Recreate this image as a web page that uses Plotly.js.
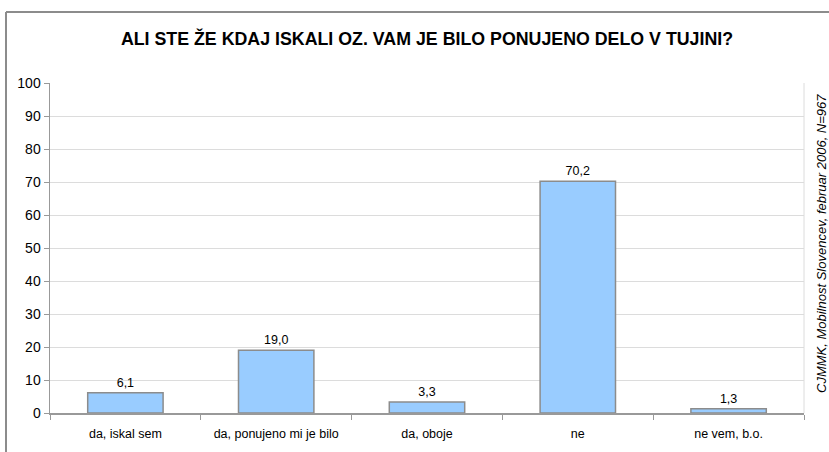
<!DOCTYPE html>
<html><head><meta charset="utf-8">
<script src="https://cdn.plot.ly/plotly-3.0.1.min.js"></script>
<style>body{margin:0;background:#fff}#c{width:829px;height:452px}</style>
</head><body><div id="c"></div>
<script>
var categories = ["da, iskal sem", "da, ponujeno mi je bilo", "da, oboje", "ne", "ne vem, b.o."];
var values = [6.1, 19.0, 3.3, 70.2, 1.3];
var valueLabels = ["6,1", "19,0", "3,3", "70,2", "1,3"];
var yTicks = [0,10,20,30,40,50,60,70,80,90,100];
var titleText = "ALI STE ŽE KDAJ ISKALI OZ. VAM JE BILO PONUJENO DELO V TUJINI?";
var sourceText = "CJMMK, Mobilnost Slovencev, februar 2006, N=967";

var L = 50, R = 25, T = 83, B = 39, W = 829, H = 452;
var pw = W - L - R, ph = H - T - B;
function px(x){return (x - L)/pw;}
function py(y){return (H - B - y)/ph;}

var trace = {
  type: "bar", x: categories, y: values,
  text: valueLabels, textposition: "outside", cliponaxis: false,
  textfont: {family: "Liberation Sans, Arial", size: 12.5, color: "#000"},
  marker: {color: "#99CCFF", line: {color: "#8c8c8c", width: 1.5}},
  hoverinfo: "none"
};
var layout = {
  width: W, height: H,
  margin: {l: L, r: R, t: T, b: B},
  paper_bgcolor: "#fff", plot_bgcolor: "#fff",
  bargap: 0.5,
  showlegend: false,
  font: {family: "Liberation Sans, Arial", color: "#000"},
  title: {text: "<b>" + titleText + "</b>", font: {size: 17.8, family: "Liberation Sans, Arial", color: "#000"},
          x: 0.5, xref: "paper", y: 1 - 39/H, yref: "container", yanchor: "middle"},
  xaxis: {type: "category", tickson: "boundaries", ticks: "outside", ticklen: 5, tickcolor: "#999",
          showline: true, linecolor: "#999", linewidth: 1.5, showgrid: false,
          tickfont: {size: 12.5}, ticklabelstandoff: 8, mirror: false},
  yaxis: {range: [0, 100], tickvals: yTicks, ticks: "outside", ticklen: 5, tickcolor: "#999",
          showline: true, linecolor: "#999", linewidth: 1.5, gridcolor: "#dcdcdc", gridwidth: 1,
          tickfont: {size: 14}, zeroline: false, fixedrange: true},
  shapes: [
    {type: "line", xref: "paper", yref: "paper", x0: px(6), x1: px(900), y0: py(12), y1: py(12),
     line: {color: "#8c8c8c", width: 2}, layer: "above"},
    {type: "line", xref: "paper", yref: "paper", x0: px(6), x1: px(6), y0: py(12), y1: py(520),
     line: {color: "#8c8c8c", width: 2}, layer: "above"},
    {type: "line", xref: "paper", yref: "paper", x0: 1, x1: 1, y0: 0, y1: 1,
     line: {color: "#dcdcdc", width: 1}}
  ],
  annotations: [
    {text: "<i>" + sourceText + "</i>", xref: "paper", yref: "paper", x: px(821), y: py(244),
     textangle: -90, showarrow: false, font: {size: 13, family: "Liberation Sans, Arial", color: "#000"},
     xanchor: "center", yanchor: "middle"}
  ]
};
Plotly.newPlot("c", [trace], layout, {staticPlot: true, displayModeBar: false});
</script></body></html>
